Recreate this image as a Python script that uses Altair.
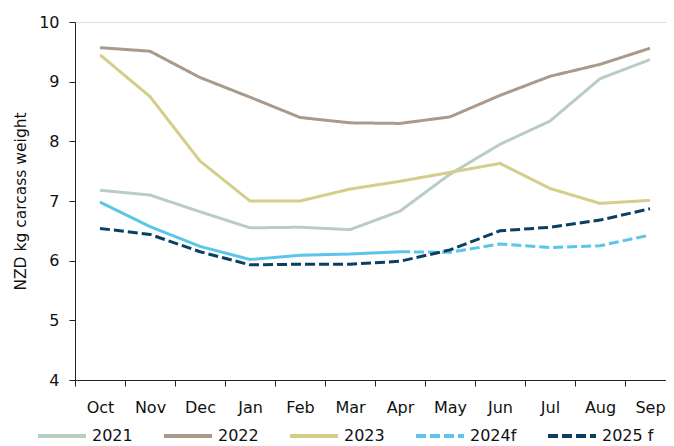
import altair as alt
import pandas as pd

months = ["Oct", "Nov", "Dec", "Jan", "Feb", "Mar", "Apr", "May", "Jun", "Jul", "Aug", "Sep"]

s2021 = [7.18, 7.10, 6.82, 6.55, 6.56, 6.52, 6.83, 7.45, 7.95, 8.34, 9.05, 9.37]
s2022 = [9.57, 9.51, 9.07, 8.74, 8.40, 8.31, 8.30, 8.41, 8.77, 9.09, 9.29, 9.56]
s2023 = [9.45, 8.75, 7.67, 7.00, 7.00, 7.20, 7.33, 7.48, 7.63, 7.21, 6.96, 7.01]
s2024f = [6.98, 6.57, 6.24, 6.02, 6.09, 6.11, 6.15, 6.14, 6.28, 6.22, 6.25, 6.43]
s2025f = [6.54, 6.44, 6.15, 5.93, 5.94, 5.94, 5.99, 6.18, 6.50, 6.56, 6.68, 6.87]

series_names = ["2021", "2022", "2023", "2024f", "2025 f"]
series_colors = ["#B9CDC4", "#A99A8B", "#D5CD8A", "#5BC5EA", "#0B3F62"]
series_dash = [[1, 0], [1, 0], [1, 0], [10, 4], [10, 4]]
actual_2024_end = "Apr"  # 2024 solid (actual) up to Apr, dashed forecast after

all_values = [s2021, s2022, s2023, s2024f, s2025f]

rows_main = []
rows_actual = []
cut = months.index(actual_2024_end)
for name, vals in zip(series_names, all_values):
    for i, (m, v) in enumerate(zip(months, vals)):
        if name == "2024f":
            if i <= cut:
                rows_actual.append({"month": m, "value": v, "series": name})
            if i >= cut:
                rows_main.append({"month": m, "value": v, "series": name})
        else:
            rows_main.append({"month": m, "value": v, "series": name})

df_main = pd.DataFrame(rows_main)
df_actual = pd.DataFrame(rows_actual)

FONT = "DejaVu Sans"

x_enc = alt.X(
    "month:N",
    sort=months,
    scale=alt.Scale(domain=months, paddingInner=0, paddingOuter=0),
    axis=alt.Axis(
        title=None,
        labelAngle=0,
        tickBand="extent",
        tickSize=6,
        labelPadding=13,
        labelFontSize=16,
        domainColor="#222222",
        tickColor="#222222",
        labelColor="#111111",
        grid=False,
    ),
)
y_enc = alt.Y(
    "value:Q",
    scale=alt.Scale(domain=[4, 10], nice=False, zero=False),
    axis=alt.Axis(
        title="NZD kg carcass weight",
        values=[4, 5, 6, 7, 8, 9, 10],
        tickSize=6,
        labelPadding=10,
        labelFontSize=16,
        titleFontSize=15.5,
        titleFontWeight="normal",
        titlePadding=10,
        titleColor="#111111",
        domainColor="#222222",
        tickColor="#222222",
        labelColor="#111111",
        grid=False,
    ),
)

legend = alt.Legend(
    title=None,
    orient="none",
    legendX=-39,
    legendY=388,
    direction="horizontal",
    symbolType="stroke",
    symbolSize=2304,
    symbolStrokeWidth=4,
    labelFontSize=16,
    labelOffset=4,
    columnPadding=23,
    labelColor="#111111",
)

main = alt.Chart(df_main).mark_line(strokeWidth=3, strokeCap="butt").encode(
    x=x_enc,
    y=y_enc,
    color=alt.Color(
        "series:N",
        scale=alt.Scale(domain=series_names, range=series_colors),
        legend=legend,
    ),
    strokeDash=alt.StrokeDash(
        "series:N",
        scale=alt.Scale(domain=series_names, range=series_dash),
        legend=legend,
    ),
    order=alt.Order("series:N"),
)

actual = alt.Chart(df_actual).mark_line(
    strokeWidth=3, strokeCap="butt", color=series_colors[3]
).encode(x=x_enc, y=y_enc)

chart = (
    alt.layer(actual, main)
    .properties(
        width=600,
        height=358,
        autosize=alt.AutoSizeParams(type="none"),
        padding={"left": 67, "top": 14, "right": -9, "bottom": 66},
    )
    .configure_view(stroke=None)
    .configure(font=FONT)
)

chart.save("out.html", embed_options={"renderer": "svg", "actions": False})
